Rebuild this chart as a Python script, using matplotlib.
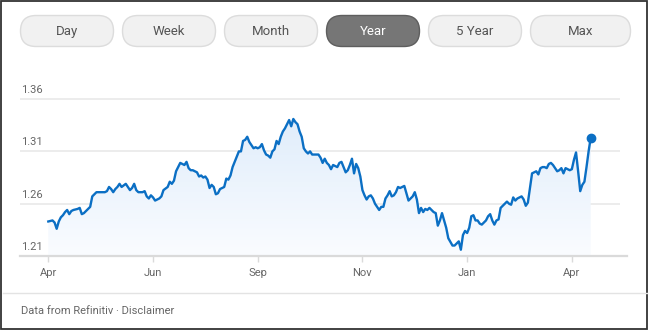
import numpy as np
import matplotlib.pyplot as plt
from matplotlib.patches import FancyBboxPatch, Rectangle
from matplotlib.colors import LinearSegmentedColormap

plt.rcParams['font.family'] = ['Roboto', 'DejaVu Sans']

# ---------------------------------------------------------------
# dati: indice giorno di borsa e cambio
# ---------------------------------------------------------------
days = [0, 2, 3, 4, 5, 6, 7, 8, 9, 10,
        11, 12, 14, 15, 16, 17, 18, 20, 21, 22,
        23, 24, 26, 27, 28, 29, 30, 31, 32, 33,
        34, 35, 37, 38, 39, 40, 41, 42, 43, 45,
        46, 47, 48, 49, 50, 51, 52, 53, 54, 55,
        57, 58, 59, 60, 61, 63, 64, 65, 66, 67,
        68, 69, 71, 72, 73, 74, 75, 76, 77, 78,
        79, 80, 81, 82, 84, 85, 86, 87, 88, 89,
        90, 91, 92, 93, 94, 95, 96, 97, 98, 99,
        100, 101, 102, 103, 104, 105, 106, 107, 108, 109,
        110, 111, 112, 113, 114, 115, 116, 117, 118, 119,
        120, 121, 122, 123, 124, 125, 126, 127, 129, 130,
        131, 132, 133, 134, 135, 136, 138, 139, 140, 141,
        142, 143, 144, 145, 146, 147, 148, 149, 150, 151,
        152, 153, 154, 155, 156, 158, 159, 160, 161, 162,
        163, 164, 165, 166, 167, 168, 169, 170, 171, 172,
        174, 175, 176, 177, 178, 179, 180, 181, 182, 183,
        184, 185, 186, 187, 188, 189, 190, 191, 193, 194,
        195, 196, 197, 198, 199, 200, 201, 202, 203, 204,
        205, 206, 207, 209, 210, 211, 212, 213, 214, 215,
        216, 218, 219, 220, 221, 222, 223, 224, 225, 226,
        227, 228, 229, 230, 231, 232, 233, 234, 235, 236,
        237, 238, 239, 240, 241, 242, 243, 244, 245, 246,
        247, 248, 249, 250, 251, 252, 253, 254, 255, 256,
        257, 258, 259]

rate = [1.243, 1.244, 1.242, 1.236, 1.243, 1.247, 1.249, 1.252, 1.254, 1.250,
        1.253, 1.254, 1.255, 1.256, 1.250, 1.251, 1.253, 1.257, 1.267, 1.269,
        1.271, 1.271, 1.271, 1.271, 1.272, 1.276, 1.274, 1.271, 1.274, 1.276,
        1.279, 1.276, 1.279, 1.276, 1.273, 1.275, 1.279, 1.273, 1.271, 1.271,
        1.272, 1.267, 1.265, 1.268, 1.266, 1.263, 1.264, 1.265, 1.267, 1.273,
        1.276, 1.281, 1.279, 1.282, 1.291, 1.299, 1.298, 1.297, 1.300, 1.294,
        1.292, 1.292, 1.290, 1.286, 1.287, 1.285, 1.286, 1.283, 1.275, 1.278,
        1.276, 1.269, 1.270, 1.274, 1.276, 1.284, 1.283, 1.287, 1.295, 1.300,
        1.305, 1.310, 1.310, 1.320, 1.321, 1.324, 1.319, 1.316, 1.313, 1.314,
        1.313, 1.314, 1.317, 1.311, 1.307, 1.306, 1.304, 1.310, 1.312, 1.320,
        1.317, 1.324, 1.329, 1.332, 1.336, 1.340, 1.334, 1.341, 1.338, 1.336,
        1.329, 1.324, 1.313, 1.310, 1.308, 1.310, 1.307, 1.307, 1.307, 1.304,
        1.299, 1.303, 1.299, 1.297, 1.293, 1.297, 1.295, 1.299, 1.300, 1.295,
        1.290, 1.292, 1.297, 1.303, 1.289, 1.298, 1.294, 1.286, 1.273, 1.268,
        1.264, 1.267, 1.268, 1.265, 1.260, 1.254, 1.257, 1.257, 1.265, 1.268,
        1.272, 1.267, 1.268, 1.271, 1.276, 1.275, 1.276, 1.277, 1.270, 1.263,
        1.267, 1.271, 1.264, 1.251, 1.256, 1.252, 1.255, 1.254, 1.256, 1.254,
        1.252, 1.251, 1.239, 1.244, 1.251, 1.244, 1.237, 1.227, 1.220, 1.220,
        1.222, 1.224, 1.216, 1.230, 1.234, 1.232, 1.237, 1.248, 1.249, 1.244,
        1.244, 1.241, 1.240, 1.244, 1.248, 1.250, 1.244, 1.240, 1.244, 1.245,
        1.256, 1.260, 1.262, 1.260, 1.259, 1.266, 1.263, 1.265, 1.266, 1.267,
        1.264, 1.258, 1.261, 1.275, 1.289, 1.290, 1.291, 1.288, 1.294, 1.295,
        1.295, 1.294, 1.298, 1.299, 1.297, 1.294, 1.291, 1.292, 1.294, 1.289,
        1.294, 1.293, 1.292, 1.293, 1.302, 1.309, 1.291, 1.272, 1.278, 1.281,
        1.295, 1.310, 1.323]

tick_days = [0, 50, 100, 150, 200, 250]
tick_labels = ['Apr', 'Jun', 'Sep', 'Nov', 'Jan', 'Apr']
y_levels = [1.21, 1.26, 1.31, 1.36]
y_labels = ['1.21', '1.26', '1.31', '1.36']
buttons = ['Day', 'Week', 'Month', 'Year', '5 Year', 'Max']
active = 'Year'
footer = 'Data from Refinitiv \u00b7 Disclaimer'

W, H = 651, 331
blue = '#0b6fc4'
grey_txt = '#666666'

fig = plt.figure(figsize=(W/100, H/100), dpi=100)
fig.patch.set_facecolor('white')

# ---------------------------------------------------------------
# livello "pagina": bordo, bottoni, footer (coordinate in pixel)
# ---------------------------------------------------------------
bg = fig.add_axes([0, 0, 1, 1])
bg.set_xlim(0, W)
bg.set_ylim(H, 0)
bg.axis('off')

bg.add_patch(Rectangle((1, 1), W-5, H-3, fill=False, ec='#333333', lw=1.3))

bx = [20.5, 122.5, 224.5, 326.5, 428.5, 530.5]
bw = [93, 93, 93, 93, 93, 100]
for x0, w, lab in zip(bx, bw, buttons):
    on = (lab == active)
    bg.add_patch(FancyBboxPatch((x0, 15.5), w, 31,
                                boxstyle='round,pad=0,rounding_size=15.5',
                                fc='#767676' if on else '#f1f1f1',
                                ec='#5e5e5e' if on else '#dcdcdc', lw=1.0))
    bg.text(x0 + w/2, 31.5, lab, ha='center', va='center', fontsize=9.5,
            color='white' if on else '#555555')

bg.plot([3, W-4], [293, 293], color='#e3e3e3', lw=1.0)
bg.text(21, 311, footer, ha='left', va='center', fontsize=8, color=grey_txt)

# ---------------------------------------------------------------
# grafico
# ---------------------------------------------------------------
px_day = 2.0942          # pixel per giorno
px_val = 0.05/52.3       # valore per pixel
x_left = -(48.3-20)/px_day
x_right = (627-48.3)/px_day
y_bot, y_top = 256, 85
ax = fig.add_axes([20/W, (H-y_bot)/H, (627-20)/W, (y_bot-y_top)/H])
ax.set_xlim(x_left, x_right)
ax.set_ylim(1.21, 1.21 + (y_bot-y_top)*px_val)
ax.patch.set_alpha(0)
for s in ['top', 'right', 'left']:
    ax.spines[s].set_visible(False)
ax.spines['bottom'].set_color('#dadada')
ax.spines['bottom'].set_linewidth(1.6)

# griglia orizzontale
x_grid_end = (620-48.3)/px_day
ax.hlines(y_levels[1:], x_left, x_grid_end, color='#ebebeb', lw=1.3, zorder=0)
ax.set_yticks([])
for yv, lab in zip(y_levels, y_labels):
    ax.annotate(lab, (x_left, yv), xytext=(1, 3), textcoords='offset points',
                ha='left', va='bottom', fontsize=8, color=grey_txt,
                annotation_clip=False)

ax.set_xticks(tick_days)
ax.set_xticklabels(tick_labels, fontsize=8, color=grey_txt)
ax.tick_params(axis='x', length=4, width=1, color='#dadada', pad=5)

# area sfumata sotto la curva
poly = ax.fill_between(days, rate, 1.21, color='none', lw=0)
cmap = LinearSegmentedColormap.from_list('sf', ['#fafcff', '#e0edfb'])
grad = np.linspace(0, 1, 256).reshape(-1, 1)
im = ax.imshow(grad, cmap=cmap, aspect='auto', origin='lower',
               extent=[days[0], days[-1], 1.21, max(rate)], zorder=1)
im.set_clip_path(poly.get_paths()[0], transform=ax.transData)

ax.plot(days, rate, color=blue, lw=1.7, zorder=3, solid_joinstyle='round')
ax.plot(days[-1], rate[-1], 'o', color=blue, ms=6, zorder=4)

fig.savefig('out.png', dpi=100)
